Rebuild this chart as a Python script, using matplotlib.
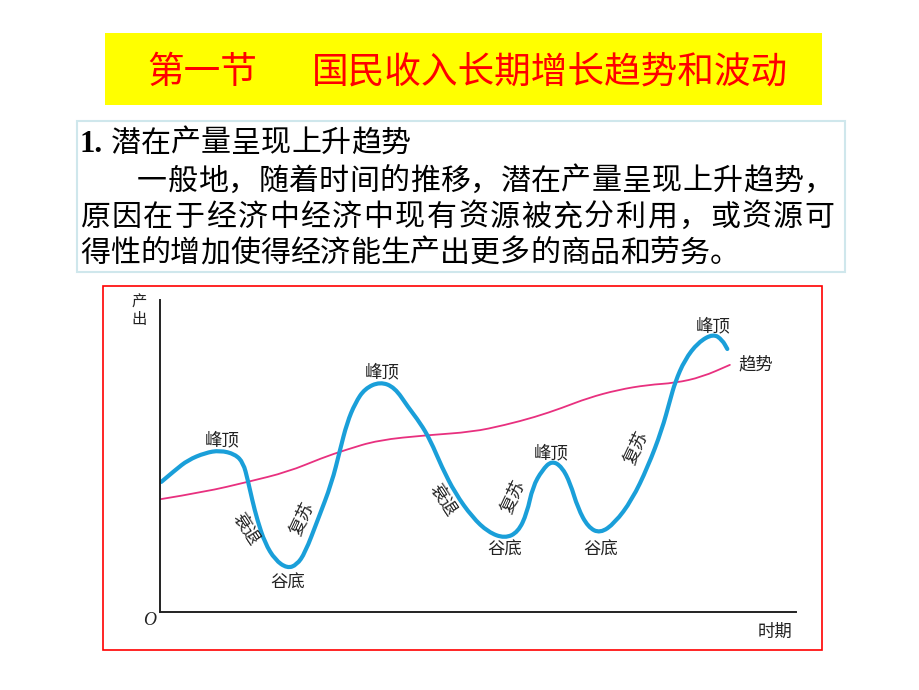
import matplotlib
matplotlib.use('Agg')
import matplotlib.pyplot as plt
from matplotlib.patches import Rectangle, PathPatch
from matplotlib.path import Path

plt.rcParams['font.family'] = ['Noto Sans CJK SC', 'DejaVu Sans']

# ---- text content ----
title_section = '第一节'
title_main = '国民收入长期增长趋势和波动'
head_num = '1.'
head_text = '潜在产量呈现上升趋势'
body_lines = ['一般地，随着时间的推移，潜在产量呈现上升趋势，',
              '原因在于经济中经济中现有资源被充分利用，或资源可',
              '得性的增加使得经济能生产出更多的商品和劳务。']

# ---- chart data (time 0-100, output 0-100) ----
cycle_x = [0.2, 2.4, 4.4, 7.1, 9.4, 11.8, 13.1, 13.8, 14.5, 15.3, 16.5, 18.1,
           20.0, 21.5, 22.8, 24.8, 27.0, 28.3, 29.4, 30.7, 32.2, 34.6, 36.9,
           39.0, 40.9, 42.5, 44.3, 46.4, 49.1, 51.6, 54.2, 56.3, 57.7, 58.6,
           60.1, 61.6, 63.2, 64.5, 65.7, 67.3, 69.2, 71.5, 74.2, 76.7, 78.9,
           80.2, 81.0, 82.5, 84.6, 87.0, 88.4, 89.2]
cycle_y = [41.7, 45.5, 48.7, 51.0, 51.8, 50.6, 47.8, 42.3, 35.9, 29.5, 22.1, 16.7,
           14.0, 15.1, 18.9, 29.5, 41.3, 51.9, 60.6, 67.0, 71.6, 73.8, 72.0,
           65.7, 60.6, 55.1, 46.5, 38.1, 30.4, 25.6, 23.6, 25.6, 31.7, 40.1,
           45.5, 48.5, 46.5, 41.3, 33.3, 27.2, 25.2, 28.5, 35.9, 46.5, 58.3,
           67.9, 73.7, 80.8, 86.4, 89.2, 87.2, 84.3]
trend_x = [0.2, 7.1, 13.8, 20.1, 25.5, 29.1, 34.3, 42.1, 49.1, 54.2, 59.0,
           63.2, 67.3, 72.0, 76.7, 81.0, 85.2, 89.6]
trend_y = [36.2, 38.5, 41.7, 44.9, 49.4, 51.9, 55.1, 56.7, 57.7, 59.9, 62.5,
           65.4, 68.6, 71.2, 72.8, 73.4, 75.3, 79.2]

phase_text = ['峰顶', '峰顶', '峰顶', '峰顶', '谷底', '谷底', '谷底',
              '衰退', '衰退', '复苏', '复苏', '复苏']
phase_x = [9.7, 34.9, 61.5, 86.9, 20.1, 54.2, 69.3, 13.5, 44.5, 22.3, 55.5, 74.7]
phase_y = [55.1, 76.9, 51.0, 91.7, 9.3, 19.9, 19.9, 26.6, 35.9, 30.1, 36.9, 52.9]
phase_rot = [0, 0, 0, 0, 0, 0, 0, -57, -57, 65, 65, 65]

W, H = 920, 690


def fx(px):
    return px / W


def fy(py):
    return 1 - py / H


def smooth_path(xs, ys):
    # quadratic bezier through midpoints, read points act as control points
    pts = list(zip(xs, ys))
    verts = [pts[0]]
    codes = [Path.MOVETO]
    for i in range(1, len(pts) - 1):
        mid = ((pts[i][0] + pts[i + 1][0]) / 2, (pts[i][1] + pts[i + 1][1]) / 2)
        verts += [pts[i], mid]
        codes += [Path.CURVE3, Path.CURVE3]
    verts.append(pts[-1])
    codes.append(Path.LINETO)
    return Path(verts, codes)


fig = plt.figure(figsize=(9.2, 6.9), dpi=100)
fig.patch.set_facecolor('white')

# title bar
fig.add_artist(Rectangle((fx(105), fy(105)), (822 - 105) / W, (105 - 33) / H,
                         transform=fig.transFigure, facecolor='#ffff00', edgecolor='none'))
fig.text(fx(147), fy(72), title_section, color='#ff0000', fontsize=26.4, ha='left', va='center')
fig.text(fx(312), fy(72), title_main, color='#ff0000', fontsize=26.4, ha='left', va='center')

# text box
fig.add_artist(Rectangle((fx(77), fy(272)), (845 - 77) / W, (272 - 121) / H,
                         transform=fig.transFigure, facecolor='white',
                         edgecolor='#cfe7ec', linewidth=1.5))


def put_line(s, x0, y, pitch):
    for i, ch in enumerate(s):
        fig.text(fx(x0 + i * pitch), fy(y), ch, fontsize=21.6, color='black',
                 ha='left', va='center')


fig.text(fx(80), fy(144), head_num, fontsize=22, fontweight='bold',
         family='Liberation Serif', ha='left', va='center')
put_line(head_text, 111, 143, 30.0)
put_line(body_lines[0], 137, 181, 30.3)
put_line(body_lines[1], 80, 217, 31.5)
put_line(body_lines[2], 80, 253, 30.0)

# chart frame
fig.add_artist(Rectangle((fx(103), fy(650)), (822 - 103) / W, (650 - 286) / H,
                         transform=fig.transFigure, facecolor='none',
                         edgecolor='#ff0000', linewidth=1.2))

ax = fig.add_axes([fx(160), fy(612), 636 / W, 312 / H])
ax.patch.set_alpha(0)
ax.set_xlim(0, 100)
ax.set_ylim(0, 100)
for s in ['top', 'right']:
    ax.spines[s].set_visible(False)
for s in ['left', 'bottom']:
    ax.spines[s].set_color('#222222')
    ax.spines[s].set_linewidth(1.4)
ax.set_xticks([])
ax.set_yticks([])

ax.add_patch(PathPatch(smooth_path(trend_x, trend_y), facecolor='none',
                       edgecolor='#e8307f', lw=1.3, capstyle='round'))
ax.add_patch(PathPatch(smooth_path(cycle_x, cycle_y), facecolor='none',
                       edgecolor='#1a9fd9', lw=3.0, capstyle='round', joinstyle='round'))

for t, x, y, r in zip(phase_text, phase_x, phase_y, phase_rot):
    ax.text(x, y, t, fontsize=12.5, color='#222222', ha='center', va='center',
            rotation=r, rotation_mode='anchor', clip_on=False)

ax.text(90.9, 79.2, '趋势', fontsize=12.5, color='#222222', ha='left', va='center', clip_on=False)
ax.text(-3.3, 96.5, '产\n出', fontsize=11, color='#222222', ha='center', va='center',
        linespacing=1.0, clip_on=False)
ax.text(-1.6, -2.8, 'O', fontsize=13, style='italic', family='Liberation Serif',
        color='#222222', ha='center', va='center', clip_on=False)
ax.text(96.7, -6.4, '时期', fontsize=12.5, color='#222222', ha='center', va='center', clip_on=False)

fig.savefig('out.png', dpi=100)
